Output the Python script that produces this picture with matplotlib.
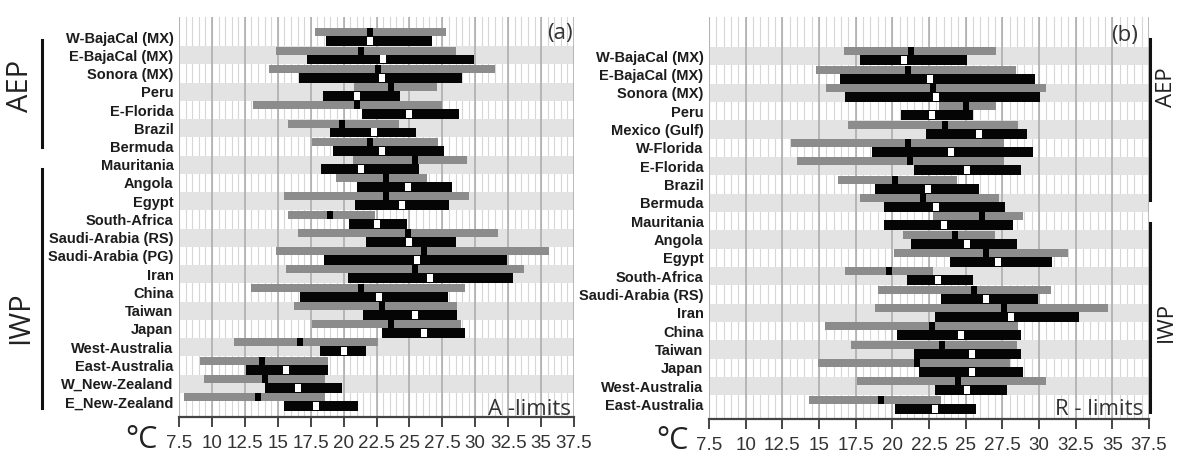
import numpy as np
import matplotlib
matplotlib.use('Agg')
import matplotlib.pyplot as plt
from matplotlib.lines import Line2D

# panel (a): A-limits
sites_a = ['W-BajaCal (MX)', 'E-BajaCal (MX)', 'Sonora (MX)', 'Peru', 'E-Florida', 'Brazil',
           'Bermuda', 'Mauritania', 'Angola', 'Egypt', 'South-Africa', 'Saudi-Arabia (RS)',
           'Saudi-Arabia (PG)', 'Iran', 'China', 'Taiwan', 'Japan', 'West-Australia',
           'East-Australia', 'W_New-Zealand', 'E_New-Zealand']
gray_lo_a = [17.8, 14.9, 14.3, 20.8, 13.1, 15.8, 17.6, 20.7, 19.4, 15.5, 15.8, 16.5, 14.9, 15.6, 13.0, 16.2, 17.6, 11.7, 9.1, 9.4, 7.9]
gray_hi_a = [27.8, 28.5, 31.5, 27.1, 27.5, 24.2, 27.2, 29.4, 26.3, 29.5, 22.4, 31.7, 35.6, 33.7, 29.2, 28.6, 28.9, 22.6, 18.8, 18.6, 18.6]
gray_mid_a = [22.0, 21.3, 22.6, 23.6, 21.0, 19.9, 22.0, 25.4, 23.2, 23.2, 19.0, 24.9, 26.1, 25.4, 21.3, 22.9, 23.6, 16.7, 13.8, 14.0, 13.5]
black_lo_a = [18.7, 17.2, 16.6, 18.4, 21.4, 19.0, 19.2, 18.3, 21.0, 20.9, 20.4, 21.7, 18.5, 20.3, 16.7, 21.5, 22.9, 18.2, 12.6, 14.0, 15.5]
black_hi_a = [26.7, 29.9, 29.0, 24.3, 28.8, 25.5, 27.6, 25.7, 28.2, 28.0, 24.8, 28.5, 32.4, 32.9, 27.9, 28.6, 29.2, 21.7, 18.8, 19.9, 21.1]
black_mid_a = [22.0, 23.0, 22.9, 21.0, 25.0, 22.3, 22.9, 21.3, 24.9, 24.4, 22.5, 25.0, 25.6, 26.6, 22.7, 25.4, 26.1, 20.0, 15.6, 16.5, 17.9]

# panel (b): R-limits
sites_b = ['W-BajaCal (MX)', 'E-BajaCal (MX)', 'Sonora (MX)', 'Peru', 'Mexico (Gulf)', 'W-Florida',
           'E-Florida', 'Brazil', 'Bermuda', 'Mauritania', 'Angola', 'Egypt', 'South-Africa',
           'Saudi-Arabia (RS)', 'Iran', 'China', 'Taiwan', 'Japan', 'West-Australia', 'East-Australia']
gray_lo_b = [16.7, 14.8, 15.5, 23.2, 17.0, 13.1, 13.5, 16.3, 17.8, 22.8, 20.7, 20.1, 16.8, 19.0, 18.8, 15.4, 17.2, 14.9, 17.6, 14.3]
gray_hi_b = [27.1, 28.4, 30.5, 27.1, 28.6, 27.6, 27.6, 24.4, 27.3, 28.9, 27.0, 32.0, 22.8, 30.8, 34.7, 28.6, 28.5, 28.0, 30.5, 23.3]
gray_mid_b = [21.3, 21.1, 22.8, 25.0, 23.6, 21.1, 21.2, 20.2, 22.1, 26.1, 24.3, 26.4, 19.8, 25.6, 27.6, 22.7, 23.4, 21.7, 24.5, 19.2]
black_lo_b = [17.8, 16.4, 16.8, 20.6, 22.3, 18.6, 21.5, 18.8, 19.4, 19.4, 21.3, 23.9, 21.0, 23.3, 22.9, 20.3, 21.5, 21.8, 22.9, 20.2]
black_hi_b = [25.1, 29.7, 30.1, 25.5, 29.2, 29.6, 28.8, 25.9, 27.7, 28.2, 28.5, 30.9, 25.5, 29.9, 32.7, 28.8, 28.8, 28.9, 27.8, 25.7]
black_mid_b = [20.8, 22.6, 23.0, 22.7, 25.9, 24.0, 25.1, 22.4, 23.0, 23.5, 25.1, 27.2, 23.1, 26.4, 28.1, 24.7, 25.4, 25.4, 25.1, 22.9]

x_ticks = np.arange(7.5, 37.6, 2.5)
x_labels = ['%g' % t for t in x_ticks]

W, H = 1179, 455
fig = plt.figure(figsize=(W / 100, H / 100), dpi=100)

def px(x, y):
    return x / W, 1 - y / H

sans = ['Liberation Sans', 'DejaVu Sans']
light = ['Open Sans', 'DejaVu Sans']

# rectangle markers (taller than wide)
mk_black = [(-0.4, -0.5), (0.4, -0.5), (0.4, 0.5), (-0.4, 0.5), (-0.4, -0.5)]
mk_white = [(-0.32, -0.5), (0.32, -0.5), (0.32, 0.5), (-0.32, 0.5), (-0.32, -0.5)]


def draw_panel(ax, sites, glo, ghi, gmid, blo, bhi, bmid, ylim):
    n = len(sites)
    base = n - 1 - np.arange(n)
    ax.set_xlim(7.5, 37.5)
    ax.set_ylim(*ylim)

    for x in np.arange(7.5, 37.6, 0.5):
        ax.axvline(x, color='#d6d6d6', lw=0.8, zorder=0.5)
    for k in range(1, n, 2):
        ax.axhspan(k, k + 1, color='#e3e3e3', lw=0, zorder=1)
    for x in x_ticks:
        ax.axvline(x, color='#a9a9a9', lw=1.1, zorder=1.5)

    ax.barh(base + 0.76, np.subtract(ghi, glo), left=glo, height=0.44,
            color='#8c8c8c', lw=0, zorder=2)
    ax.barh(base + 0.27, np.subtract(bhi, blo), left=blo, height=0.54,
            color='#050505', lw=0, zorder=2)
    ax.plot(gmid, base + 0.76, ls='none', marker=mk_black, ms=5.2,
            color='black', mew=0, zorder=3)
    ax.plot(bmid, base + 0.27, ls='none', marker=mk_white, ms=6.2,
            color='white', mew=0, zorder=3)

    for s in ['left', 'right', 'top']:
        ax.spines[s].set_visible(False)
    ax.spines['bottom'].set_color('#444444')
    ax.spines['bottom'].set_linewidth(1.6)
    ax.spines['bottom'].set_zorder(4)

    ax.set_xticks(x_ticks)
    ax.set_xticklabels(x_labels, family=sans, fontsize=13.5, color='#333333')
    ax.tick_params(axis='x', direction='out', length=7, width=1.4,
                   color='#444444', pad=6)
    ax.set_yticks(base + 0.5)
    ax.set_yticklabels(sites, family=sans, fontweight='bold', fontsize=10.5,
                       color='#1c1c1c')
    ax.tick_params(axis='y', length=0, pad=4)


ax_a = fig.add_axes([179 / W, 1 - 417 / H, 395 / W, 400 / H])
draw_panel(ax_a, sites_a, gray_lo_a, gray_hi_a, gray_mid_a,
           black_lo_a, black_hi_a, black_mid_a, (-0.33, 21.6))

ax_b = fig.add_axes([709 / W, 1 - 419 / H, 440 / W, 402 / H])
draw_panel(ax_b, sites_b, gray_lo_b, gray_hi_b, gray_mid_b,
           black_lo_b, black_hi_b, black_mid_b, (-0.29, 21.63))

# panel captions
fig.text(*px(573, 34), '(a)', family=light, fontsize=16, color='#333333',
         ha='right', va='center')
fig.text(*px(1138, 36), '(b)', family=light, fontsize=16, color='#333333',
         ha='right', va='center')
fig.text(*px(571, 415), 'A -limits', family=light, fontsize=16, color='#333333',
         ha='right', va='baseline')
fig.text(*px(1143, 415), 'R - limits', family=light, fontsize=16, color='#333333',
         ha='right', va='baseline')
fig.text(*px(158, 448), '°C', family=light, fontsize=22, color='#222222',
         ha='right', va='baseline')
fig.text(*px(689, 449), '°C', family=light, fontsize=22, color='#222222',
         ha='right', va='baseline')

# group brackets
for x, y0, y1 in [(42, 40, 147), (42, 169, 408), (1150, 39, 200), (1150, 223, 412)]:
    fig.add_artist(Line2D([x / W, x / W], [1 - y0 / H, 1 - y1 / H],
                          transform=fig.transFigure, color='#111111', lw=2.2))

fig.text(*px(21, 86), 'AEP', family=light, fontsize=21, color='#222222',
         rotation=90, ha='center', va='center')
fig.text(*px(21, 318), 'IWP', family=light, fontsize=21, color='#222222',
         rotation=90, ha='center', va='center')
fig.text(*px(1166, 87), 'AEP', family=light, fontsize=16, color='#222222',
         rotation=90, ha='center', va='center')
fig.text(*px(1166, 322), 'IWP', family=light, fontsize=16, color='#222222',
         rotation=90, ha='center', va='center')

fig.savefig('out.png', dpi=100)
